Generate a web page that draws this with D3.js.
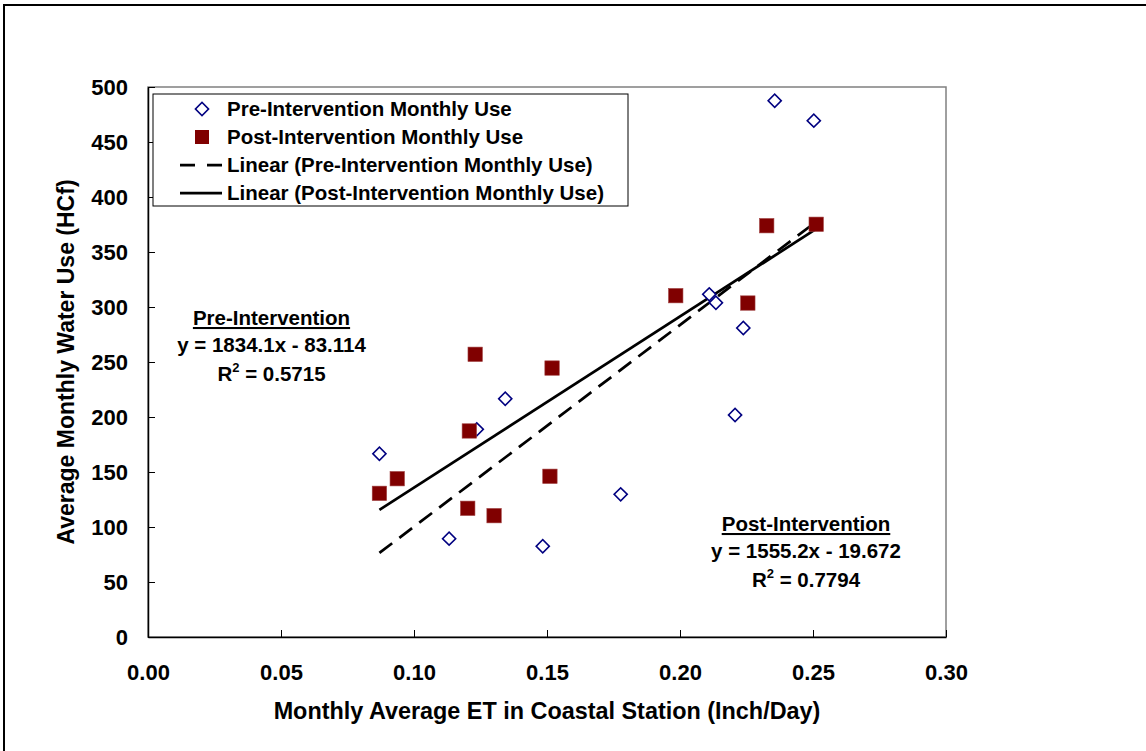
<!DOCTYPE html>
<html>
<head>
<meta charset="utf-8">
<script src="https://cdn.jsdelivr.net/npm/d3@7"></script>
<style>
  html, body { margin: 0; padding: 0; background: #fff; }
  svg { display: block; font-family: "Liberation Sans", Arial, sans-serif; font-weight: bold; }
</style>
</head>
<body>
<svg id="chart" width="1146" height="751"></svg>
<script>
// Pre-intervention monthly observations (ET in inch/day, use in HCf)
const preET  = [0.0870, 0.1132, 0.1236, 0.1343, 0.1484, 0.1777, 0.2110, 0.2135, 0.2207, 0.2238, 0.2356, 0.2503];
const preUse = [166.6, 89.4, 188.8, 216.6, 82.5, 129.7, 311.5, 303.9, 201.8, 280.9, 487.5, 469.4];

// Post-intervention monthly observations
const postET  = [0.0870, 0.0937, 0.1202, 0.1208, 0.1230, 0.1301, 0.1511, 0.1519, 0.1984, 0.2255, 0.2326, 0.2512];
const postUse = [130.6, 143.9, 117.0, 187.3, 257.0, 110.3, 146.1, 244.5, 310.3, 303.6, 373.9, 375.2];

// Linear trend coefficients [slope, intercept] and R²
const preFit  = [1834.1, -83.114];
const postFit = [1555.2, -19.672];
const preR2 = "0.5715";
const postR2 = "0.7794";

// Axis ticks
const xTicks = [0.00, 0.05, 0.10, 0.15, 0.20, 0.25, 0.30];
const yTicks = [0, 50, 100, 150, 200, 250, 300, 350, 400, 450, 500];

const legendLabels = [
  "Pre-Intervention Monthly Use",
  "Post-Intervention Monthly Use",
  "Linear (Pre-Intervention Monthly Use)",
  "Linear (Post-Intervention Monthly Use)"
];

const svg = d3.select("#chart");
const plot = { left: 148, right: 946, top: 87, bottom: 637 };

const x = d3.scaleLinear().domain([0, 0.30]).range([plot.left, plot.right]);
const y = d3.scaleLinear().domain([0, 500]).range([plot.bottom, plot.top]);

// Outer chart frame
svg.append("rect")
  .attr("x", 4).attr("y", 5).attr("width", 1300).attr("height", 900)
  .attr("fill", "#fff").attr("stroke", "#000").attr("stroke-width", 2);

// Plot area border
svg.append("rect")
  .attr("x", plot.left).attr("y", plot.top)
  .attr("width", plot.right - plot.left).attr("height", plot.bottom - plot.top)
  .attr("fill", "#fff").attr("stroke", "#808080").attr("stroke-width", 1.5);

// Axes with inward ticks
const xAxis = svg.append("g")
  .attr("transform", `translate(0,${plot.bottom})`)
  .call(d3.axisBottom(x).tickValues(xTicks).tickSize(-7).tickSizeOuter(0).tickFormat(d3.format(".2f")));
const yAxis = svg.append("g")
  .attr("transform", `translate(${plot.left},0)`)
  .call(d3.axisLeft(y).tickValues(yTicks).tickSize(-7).tickSizeOuter(0).tickFormat(d3.format("d")));

[xAxis, yAxis].forEach(g => {
  g.select(".domain").attr("stroke", "#000").attr("stroke-width", 1.5);
  g.selectAll(".tick line").attr("stroke", "#000").attr("stroke-width", 1);
  g.selectAll(".tick text")
    .attr("fill", "#000")
    .attr("font-size", 22)
    .attr("font-weight", "bold")
    .attr("font-family", "Liberation Sans, Arial, sans-serif");
});
xAxis.selectAll(".tick text").attr("dy", null).attr("y", 43);
yAxis.selectAll(".tick text").attr("x", -20).attr("dy", "0.36em");

// Axis titles
svg.append("text")
  .attr("x", (plot.left + plot.right) / 2).attr("y", 719)
  .attr("text-anchor", "middle").attr("font-size", 23.4)
  .text("Monthly Average ET in Coastal Station (Inch/Day)");
svg.append("text")
  .attr("transform", `translate(74,${(plot.top + plot.bottom) / 2}) rotate(-90)`)
  .attr("text-anchor", "middle").attr("font-size", 23)
  .text("Average Monthly Water Use (HCf)");

// Trend lines over each series' ET range
function trend(fit, xs) {
  const [a, b] = fit;
  const lo = d3.min(xs), hi = d3.max(xs);
  return [[lo, a * lo + b], [hi, a * hi + b]];
}
const line = d3.line().x(d => x(d[0])).y(d => y(d[1]));

svg.append("path")
  .attr("d", line(trend(preFit, preET)))
  .attr("fill", "none").attr("stroke", "#000").attr("stroke-width", 2.75)
  .attr("stroke-dasharray", "16,9");
svg.append("path")
  .attr("d", line(trend(postFit, postET)))
  .attr("fill", "none").attr("stroke", "#000").attr("stroke-width", 2.75);

// Markers
const diamond = d3.symbol().type(d3.symbolSquare).size(86)();
const pre = preET.map((v, i) => [v, preUse[i]]);
const post = postET.map((v, i) => [v, postUse[i]]);

svg.append("g").selectAll("path").data(pre).join("path")
  .attr("d", diamond)
  .attr("transform", d => `translate(${x(d[0])},${y(d[1])}) rotate(45)`)
  .attr("fill", "#fff").attr("stroke", "#000080").attr("stroke-width", 1.6);

svg.append("g").selectAll("rect").data(post).join("rect")
  .attr("x", d => x(d[0]) - 7.2).attr("y", d => y(d[1]) - 7.2)
  .attr("width", 14.4).attr("height", 14.4)
  .attr("fill", "#800000").attr("stroke", "#a04040").attr("stroke-width", 0.6);

// Legend
const lg = svg.append("g");
lg.append("rect")
  .attr("x", 153).attr("y", 94).attr("width", 475).attr("height", 112)
  .attr("fill", "#fff").attr("stroke", "#000").attr("stroke-width", 1);
const rowY = [109, 137, 165, 193];
lg.selectAll("text").data(legendLabels).join("text")
  .attr("x", 227).attr("y", (d, i) => rowY[i]).attr("dy", "0.36em")
  .attr("font-size", 20.5).text(d => d);
lg.append("path").attr("d", diamond)
  .attr("transform", `translate(202,${rowY[0]}) rotate(45)`)
  .attr("fill", "#fff").attr("stroke", "#000080").attr("stroke-width", 1.6);
lg.append("rect").attr("x", 195).attr("y", rowY[1] - 7).attr("width", 14).attr("height", 14)
  .attr("fill", "#800000");
lg.append("line").attr("x1", 180).attr("x2", 222).attr("y1", rowY[2]).attr("y2", rowY[2])
  .attr("stroke", "#000").attr("stroke-width", 2.75).attr("stroke-dasharray", "15,12");
lg.append("line").attr("x1", 180).attr("x2", 222).attr("y1", rowY[3]).attr("y2", rowY[3])
  .attr("stroke", "#000").attr("stroke-width", 2.75);

// Regression annotations
function annotate(cx, y0, title, fit, r2) {
  const g = svg.append("g").attr("text-anchor", "middle").attr("font-size", 20.5);
  g.append("text").attr("x", cx).attr("y", y0)
    .attr("text-decoration", "underline").text(title);
  const [a, b] = fit;
  g.append("text").attr("x", cx).attr("y", y0 + 26.5)
    .text(`y = ${a}x ${b < 0 ? "-" : "+"} ${Math.abs(b)}`);
  const t = g.append("text").attr("x", cx).attr("y", y0 + 56);
  t.append("tspan").text("R");
  t.append("tspan").attr("font-size", 13).attr("dy", -9).text("2");
  t.append("tspan").attr("dy", 9).text(` = ${r2}`);
}
annotate(271.5, 325, "Pre-Intervention", preFit, preR2);
annotate(806, 531, "Post-Intervention", postFit, postR2);
</script>
</body>
</html>
